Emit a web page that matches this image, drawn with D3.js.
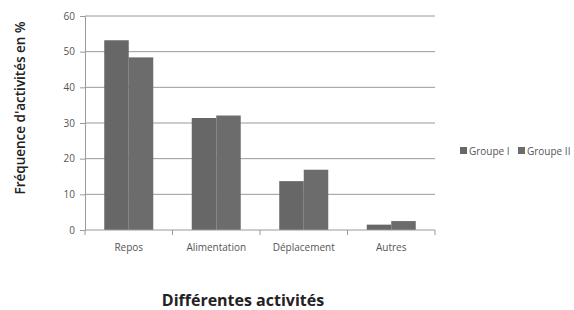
<!DOCTYPE html>
<html>
<head>
<meta charset="utf-8">
<script src="https://cdn.jsdelivr.net/npm/d3@7"></script>
<style>
  body { margin: 0; background: #fff; }
  svg { display: block; }
</style>
</head>
<body>
<svg id="chart" width="574" height="310"></svg>
<script>
const categories = ["Repos", "Alimentation", "Déplacement", "Autres"];
const groups = ["Groupe I", "Groupe II"];
const groupI = [53.2, 31.4, 13.7, 1.5];
const groupII = [48.4, 32.1, 16.9, 2.5];
const yTicks = [0, 10, 20, 30, 40, 50, 60];

const width = 574, height = 310;
const margin = { top: 16, right: 139, bottom: 80, left: 85 };
const innerW = width - margin.left - margin.right;
const innerH = height - margin.top - margin.bottom;
const colors = ["#676767", "#6c6c6c"];
const font = "'Open Sans', 'Noto Sans', sans-serif";

const svg = d3.select("#chart");
const g = svg.append("g").attr("transform", `translate(${margin.left},${margin.top})`);

const x0 = d3.scaleBand().domain(categories).range([0, innerW]).paddingInner(0.44).paddingOuter(0.22);
const x1 = d3.scaleBand().domain(groups).range([0, x0.bandwidth()]);
const y = d3.scaleLinear().domain([0, 60]).range([innerH, 0]);

// horizontal gridlines
g.selectAll(".grid")
  .data(yTicks.slice(1))
  .join("line")
  .attr("x1", 0)
  .attr("x2", innerW)
  .attr("y1", (d) => y(d))
  .attr("y2", (d) => y(d))
  .attr("stroke", "#9a9a9a")
  .attr("stroke-width", 1);

// bars
const rows = categories.map((c, i) => ({ cat: c, vals: [groupI[i], groupII[i]] }));
g.selectAll(".grp")
  .data(rows)
  .join("g")
  .attr("transform", (d) => `translate(${x0(d.cat)},0)`)
  .selectAll("rect")
  .data((d) => d.vals.map((v, j) => ({ key: groups[j], v, j })))
  .join("rect")
  .attr("x", (d) => x1(d.key))
  .attr("y", (d) => y(d.v))
  .attr("width", x1.bandwidth())
  .attr("height", (d) => innerH - y(d.v))
  .attr("fill", (d) => colors[d.j]);

// y axis
const yAxis = g.append("g")
  .call(d3.axisLeft(y).tickValues(yTicks).tickSize(5).tickPadding(5));
yAxis.select(".domain").attr("stroke", "#9a9a9a");
yAxis.selectAll(".tick line").attr("stroke", "#9a9a9a");
yAxis.selectAll("text")
  .attr("fill", "#555")
  .style("font-family", font)
  .style("font-size", "10px");

// x axis: ticks between categories
const xAxis = g.append("g").attr("transform", `translate(0,${innerH})`);
xAxis.append("line")
  .attr("x1", 0).attr("x2", innerW)
  .attr("stroke", "#9a9a9a");
const step = x0.step();
xAxis.selectAll(".sep")
  .data(d3.range(categories.length + 1))
  .join("line")
  .attr("x1", (i) => i * step)
  .attr("x2", (i) => i * step)
  .attr("y1", 0)
  .attr("y2", 5)
  .attr("stroke", "#9a9a9a");
xAxis.selectAll(".lbl")
  .data(categories)
  .join("text")
  .attr("x", (d) => x0(d) + x0.bandwidth() / 2)
  .attr("y", 21)
  .attr("text-anchor", "middle")
  .attr("fill", "#555")
  .style("font-family", font)
  .style("font-size", "10px")
  .text((d) => d);

// axis titles
svg.append("text")
  .attr("transform", "translate(25,108) rotate(-90)")
  .attr("text-anchor", "middle")
  .attr("fill", "#222")
  .style("font-family", font)
  .style("font-size", "13.5px")
  .style("font-weight", "600")
  .text("Fréquence d'activités en %");

svg.append("text")
  .attr("x", 243)
  .attr("y", 306)
  .attr("text-anchor", "middle")
  .attr("fill", "#222")
  .style("font-family", font)
  .style("font-size", "16px")
  .style("font-weight", "bold")
  .text("Différentes activités");

// legend
const legend = svg.append("g").attr("transform", "translate(460,151)");
const legX = [0, 58];
groups.forEach((name, i) => {
  legend.append("rect")
    .attr("x", legX[i])
    .attr("y", -4)
    .attr("width", 7)
    .attr("height", 7)
    .attr("fill", colors[i]);
  legend.append("text")
    .attr("x", legX[i] + 9)
    .attr("y", 3.5)
    .attr("fill", "#555")
    .style("font-family", font)
    .style("font-size", "10px")
    .text(name);
});
</script>
</body>
</html>
